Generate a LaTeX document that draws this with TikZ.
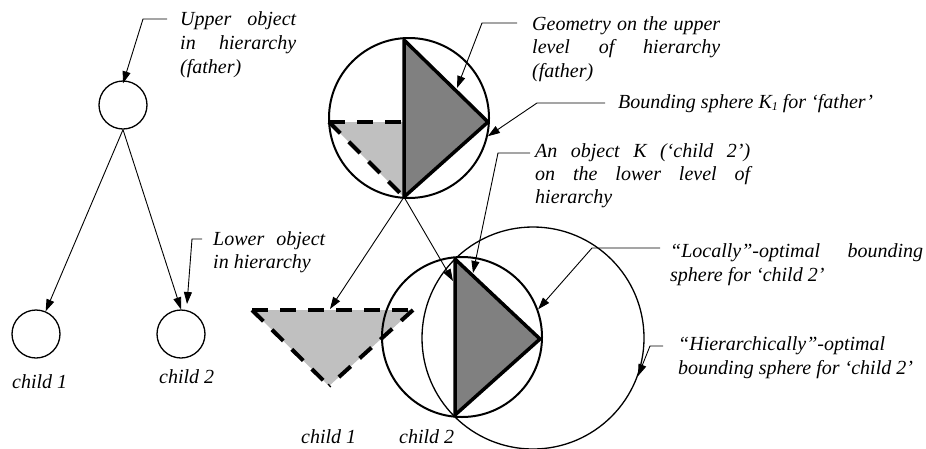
\documentclass[tikz,border=0pt]{standalone}
\usepackage{fontspec}
\setmainfont{Liberation Serif}
\usetikzlibrary{arrows.meta}
\definecolor{lightg}{HTML}{C0C0C0}
\definecolor{darkg}{HTML}{808080}
\newcommand{\jline}[2]{\hbox{\makebox[#1][s]{#2}}}
\newcommand{\fline}[1]{\hbox{#1}}
\tikzset{
  tnode/.style={circle, draw, line width=1.3pt, minimum size=48pt, inner sep=0pt},
  bsph/.style={circle, draw, line width=2pt, inner sep=0pt, minimum size=160pt},
  hsph/.style={circle, draw, line width=1.3pt, inner sep=0pt, minimum size=222pt},
  arr/.style={-{Triangle[length=12pt,width=8pt]}, line width=0.9pt},
  lbl/.style={anchor=base west, inner sep=0pt, font=\fontsize{20}{24}\selectfont\itshape},
  geo/.style={line width=3.5pt, line join=round},
  dsh/.style={line width=4pt, dash pattern=on 16pt off 12pt},
}
\begin{document}
\begin{tikzpicture}[x=1pt,y=-1pt]
\useasboundingbox (0,0) rectangle (926,448);
% ---------- left tree ----------
\node[tnode] (f) at (123,105) {};
\node[tnode] (c1) at (36,334) {};
\node[tnode] (c2) at (181,334) {};
\draw[arr] (f.south) -- (c1);
\draw[arr] (f.south) -- (c2.north);
\node[lbl] (tc1) at (12,388) {child 1};
\node[lbl] (tc2) at (159,383) {child 2};
% labels
\node[lbl] (tu) at (180,25) {\vtop{\baselineskip=24pt\jline{116pt}{Upper object}\jline{116pt}{in hierarchy}\fline{(father)}}};
\coordinate (tuc) at (167,19);
\draw[arr] (tuc) -- (143,19) -- ([yshift=-3pt]f.north);
\node[lbl] (tl) at (213,245) {\vtop{\baselineskip=23pt\jline{112pt}{Lower object}\fline{in hierarchy}}};
\coordinate (tlc) at (202,239);
\coordinate (c2tip) at (187,304);
\draw[arr] (tlc) -- (192,239) -- (c2tip);
% ---------- father geometry ----------
\coordinate (Ft) at (404,40);
\coordinate (Fr) at (488,122);
\coordinate (Fb) at (404,197);
\coordinate (Fl) at (329,122);
\coordinate (Fm) at (404,122);
\fill[lightg] (Fl) -- (Fm) -- (Fb) -- cycle;
\filldraw[fill=darkg, draw=black, geo] (Ft) -- (Fr) -- (Fb) -- cycle;
\draw[dsh] (Fl) -- (Fm);
\draw[dsh] (Fl) -- (Fb);
\node[bsph] (F) at (409,118) {};
% ---------- child geometry ----------
\coordinate (At) at (252,310);
\coordinate (Ar) at (413,310);
\coordinate (Ab) at (329,386);
\fill[lightg] (At) -- (Ar) -- (Ab) -- cycle;
\draw[dsh] (At) -- (Ar);
\draw[dsh] (At) -- (Ab);
\draw[dsh] (Ar) -- (Ab);
\node[bsph] (C2) at (462,337) {};
\node[hsph] (H) at (533,338) {};
\coordinate (Kt) at (455,259);
\coordinate (Kr) at (540,339);
\coordinate (Kb) at (455,415);
\filldraw[fill=darkg, draw=black, geo] (Kt) -- (Kr) -- (Kb) -- cycle;
\node[lbl] (tc1b) at (301,443) {child 1};
\node[lbl] (tc2b) at (399,443) {child 2};
% arrows from father geometry to children
\coordinate (A1tip) at (330,309);
\coordinate (K2tip) at (453,281);
\draw[arr] (Fb) -- (A1tip);
\draw[arr] (Fb) -- (K2tip);
% ---------- callouts ----------
\node[lbl] (tg) at (532,30) {\vtop{\baselineskip=23.5pt\jline{188pt}{Geometry on the upper}\jline{188pt}{level of hierarchy}\fline{(father)}}};
\coordinate (tgc) at (517,23);
\coordinate (Fedge) at (457,88);
\draw[arr] (tgc) -- (482,23) -- (Fedge);
\node[lbl] (tb) at (618,108) {Bounding sphere K\raisebox{-0.3ex}{\fontsize{12}{12}\selectfont 1} for ‘father’};
\coordinate (tbc) at (605,103);
\draw[arr] (tbc) -- (537,103) -- (F.-13);
\node[lbl] (tk) at (535,157) {\vtop{\baselineskip=23pt\jline{215pt}{An object K (‘child 2’)}\jline{215pt}{on the lower level of}\fline{hierarchy}}};
\coordinate (tkc) at (530,153);
\coordinate (Kedge) at (473,273);
\draw[arr] (tkc) -- (498,153) -- (Kedge);
\node[lbl] (tlo) at (670,257) {\vtop{\baselineskip=24pt\jline{253pt}{“Locally”-optimal bounding}\fline{sphere for ‘child 2’}}};
\coordinate (tloc) at (660,248);
\draw[arr] (tloc) -- (592,248) -- (C2.20);
\node[lbl] (th) at (678,350) {\vtop{\baselineskip=24pt\fline{“Hierarchically”-optimal}\fline{bounding sphere for ‘child 2’}}};
\coordinate (thc) at (663,346);
\draw[arr] (thc) -- (650,346) -- (H.-20);
\end{tikzpicture}
\end{document}
